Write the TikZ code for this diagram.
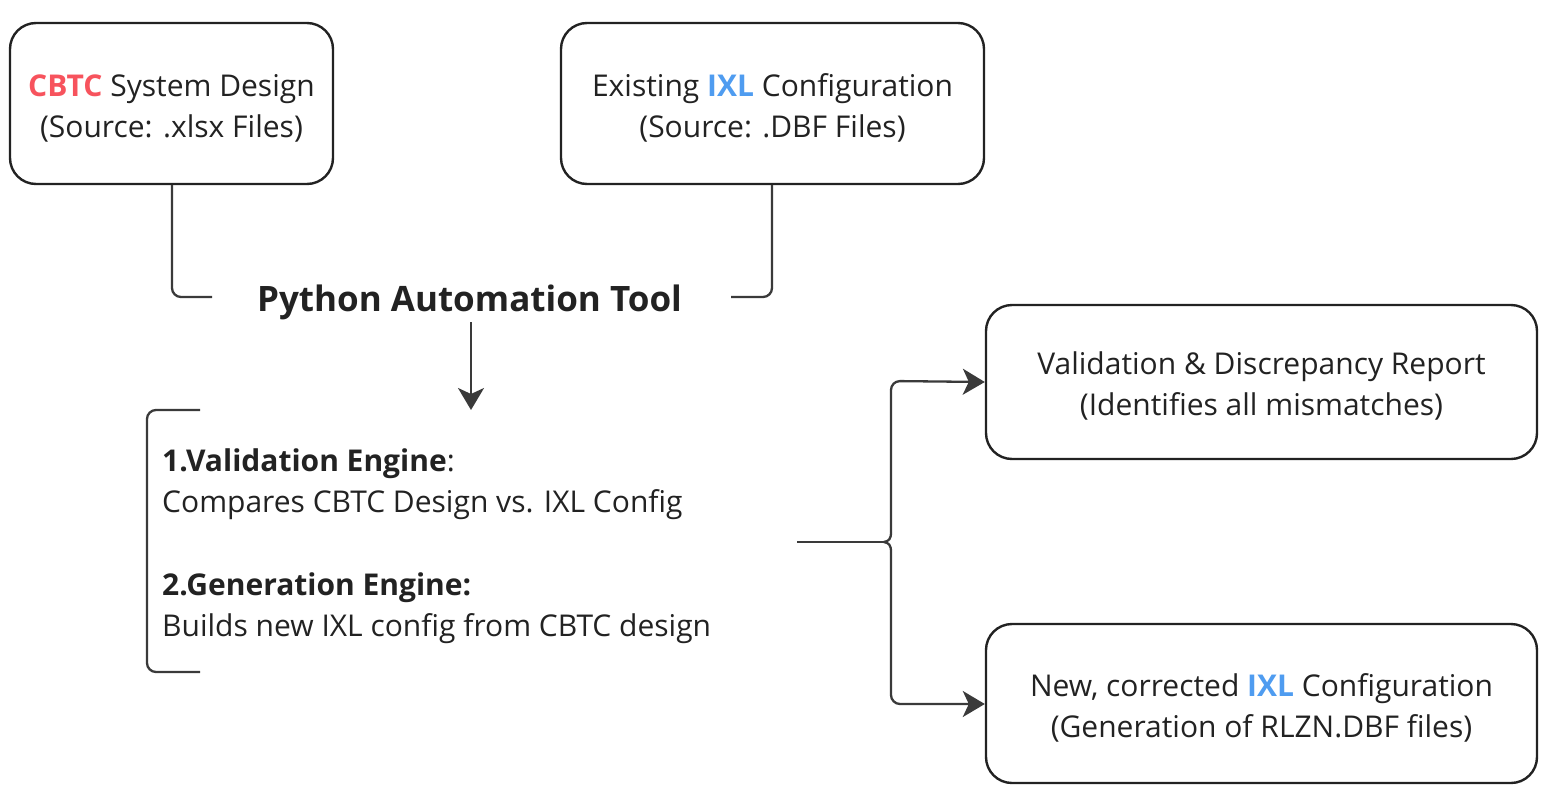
\documentclass[tikz,border=0pt]{standalone}
\usepackage{fontspec}
\IfFontExistsTF{Open Sans Bold}
  {\setmainfont{Open Sans}}
  {\setmainfont{Noto Sans}[BoldFont={Noto Sans}, BoldFeatures={FakeBold=2.5}]}
\usetikzlibrary{arrows.meta}
\definecolor{ink}{HTML}{222222}
\definecolor{line}{HTML}{3A3A3A}
\definecolor{cbtcred}{HTML}{F7535D}
\definecolor{ixlblue}{HTML}{4F9CF0}
\newcommand{\downstrut}{\rule{0pt}{31pt}}
\tikzset{
  box/.style={draw=ink, line width=2.4pt, rounded corners=26pt, align=center, text=ink,
    font=\fontsize{30pt}{41pt}\selectfont, inner sep=0pt},
  conn/.style={draw=line, line width=2.3pt, rounded corners=9pt},
  arr/.style={conn, -{Stealth[length=22pt,width=26pt,inset=6pt]}},
  txt/.style={text=ink, font=\fontsize{30pt}{41pt}\selectfont, align=left, inner sep=0pt}
}
\begin{document}
\begin{tikzpicture}[x=1pt,y=-1pt]
\useasboundingbox (0,0) rectangle (1552,798);
\node[box, minimum width=323pt, minimum height=161pt] (A) at (171.5,103.5)
  {\downstrut{\bfseries\color{cbtcred}CBTC} System Design\\(Source: .xlsx Files)};
\node[box, minimum width=423pt, minimum height=161pt] (B) at (772.5,103.5)
  {\downstrut Existing {\bfseries\color{ixlblue}IXL} Configuration\\(Source: .DBF Files)};
\node[box, minimum width=551pt, minimum height=154pt] (C) at (1261.5,382)
  {\downstrut Validation \& Discrepancy Report\\(Identifies all mismatches)};
\node[box, minimum width=551pt, minimum height=159pt] (D) at (1261.5,703.5)
  {\downstrut New, corrected {\bfseries\color{ixlblue}IXL} Configuration\\(Generation of RLZN.DBF files)};
\node[text=ink, inner sep=0pt, font=\fontsize{35pt}{40pt}\selectfont\bfseries] (P) at (469.5,302) {Python Automation Tool};
\coordinate (pl) at (212,297);
\coordinate (pr) at (731,297);
\coordinate (pb) at (471,322);
\coordinate (et) at (471,410);
\draw[conn] (A.south -| 172,0) |- (pl);
\draw[conn] (B.south -| 772,0) |- (pr);
\draw[arr, rounded corners=0pt] (pb) -- (et);
% bracket
\coordinate (bt) at (200,410);
\coordinate (bb) at (200,672);
\draw[conn] (bt) -- (147,410) -- (147,672) -- (bb);
\node[txt, anchor=west] (E1) at (162,464) {\textbf{1.Validation Engine}:};
\node[txt, anchor=west] (E2) at (162,505) {Compares CBTC Design vs. IXL Config};
\node[txt, anchor=west] (E3) at (162,588) {\textbf{2.Generation Engine:}};
\node[txt, anchor=west] (E4) at (162,629) {Builds new IXL config from CBTC design};
% fork
\coordinate (fs) at (797,542);
\coordinate (ft) at (884,542);
\coordinate (fu) at (891,532);
\coordinate (fd) at (891,552);
\draw[conn, rounded corners=0pt] (fs) -- (ft);
\draw[conn, rounded corners=0pt] (fu) .. controls (891,539) and (889,541) .. (ft)
  .. controls (889,543) and (891,545) .. (fd);
\draw[arr] (fu) -- (891,381) -- (C.west);
\draw[arr] (fd) -- (891,704) -- (D.west |- 0,704);
\end{tikzpicture}
\end{document}
